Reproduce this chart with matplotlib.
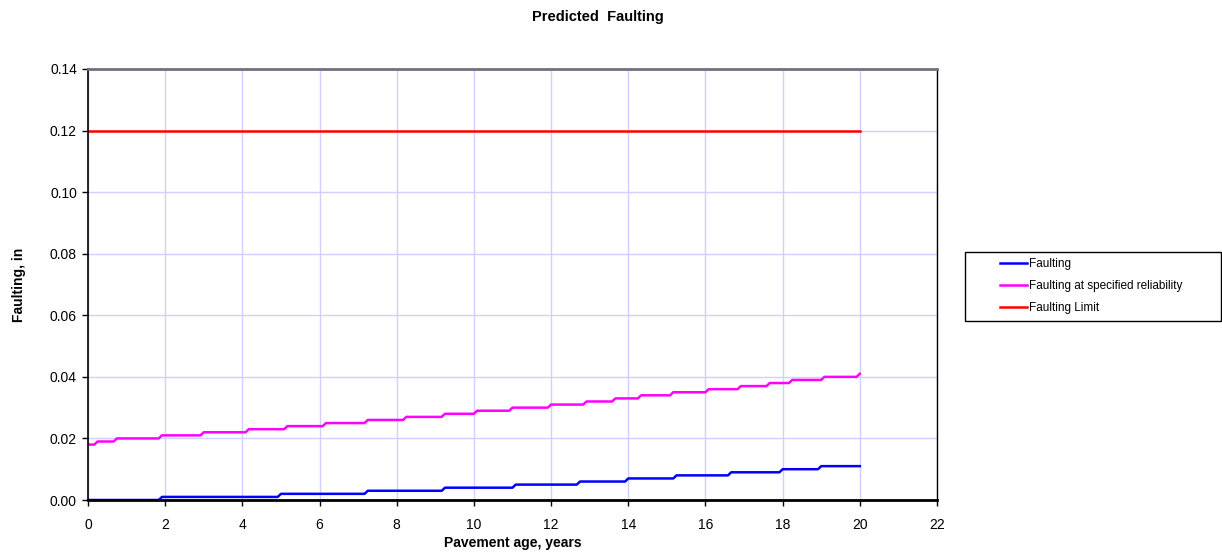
import numpy as np
import matplotlib
matplotlib.use("Agg")
import matplotlib.pyplot as plt
from matplotlib.patches import Rectangle

plt.rcParams['font.family'] = ['Liberation Sans', 'DejaVu Sans']

# Umur saat nilai berubah (tahun) dan nilai faulting (in)
umur_faulting = [0.0, 1.89, 4.96, 7.2, 9.17, 11.08, 12.7, 14.0, 15.25, 16.6, 17.93, 18.94]
nilai_faulting = [0.000, 0.001, 0.002, 0.003, 0.004, 0.005, 0.006, 0.007, 0.008, 0.009, 0.010, 0.011]

umur_reliab = [0.0, 0.23, 0.72, 1.91, 2.97, 4.14, 5.13, 6.12, 7.23, 8.25, 9.22, 10.08,
               10.98, 11.99, 12.89, 13.62, 14.31, 15.12, 16.02, 16.9, 17.6, 18.25, 19.05, 19.98]
nilai_reliab = [0.018, 0.019, 0.020, 0.021, 0.022, 0.023, 0.024, 0.025, 0.026, 0.027, 0.028, 0.029,
                0.030, 0.031, 0.032, 0.033, 0.034, 0.035, 0.036, 0.037, 0.038, 0.039, 0.040, 0.041]

batas_faulting = 0.12
umur_akhir = 20.0

x_ticks = list(range(0, 23, 2))
y_ticks = [0.00, 0.02, 0.04, 0.06, 0.08, 0.10, 0.12, 0.14]

# Deret bulanan dari data tangga
bulan = np.arange(0, int(umur_akhir * 12) + 1) / 12.0


def deret_bulanan(umur, nilai):
    idx = np.searchsorted(umur, bulan, side='right') - 1
    return np.array(nilai)[idx]


fig = plt.figure(figsize=(12.22, 5.52), dpi=100)
ax = fig.add_axes([88 / 1222, 52 / 552, (937 - 88) / 1222, (500 - 69) / 552])

ax.plot(bulan, deret_bulanan(umur_faulting, nilai_faulting), color='#0000ff', lw=1.8, label='Faulting')
ax.plot(bulan, deret_bulanan(umur_reliab, nilai_reliab), color='#ff00ff', lw=1.8,
        label='Faulting at specified reliability')
ax.plot([0, umur_akhir], [batas_faulting, batas_faulting], color='#ff0000', lw=1.8, label='Faulting Limit')

ax.set_xlim(0, 22)
ax.set_ylim(0, 0.14)
ax.set_xticks(x_ticks)
ax.set_yticks(y_ticks)
ax.set_yticklabels([f"{v:.2f}" for v in y_ticks])
ax.grid(True, color='#d0d0ff', lw=1.0)
ax.set_axisbelow(True)
ax.tick_params(labelsize=10, length=4, width=1, direction='out')
ax.tick_params(axis='x', pad=9)
ax.tick_params(axis='y', pad=4)

ax.spines['left'].set_linewidth(1.2)
ax.spines['bottom'].set_linewidth(2)
ax.spines['top'].set_color('#707080')
ax.spines['top'].set_linewidth(2)
ax.spines['right'].set_linewidth(1)

ax.set_xlabel('Pavement age, years', fontsize=10, fontweight='bold', labelpad=3)
ax.set_ylabel('Faulting, in', fontsize=10, fontweight='bold', labelpad=17)
fig.text(598 / 1222, 1 - 17 / 552, 'Predicted  Faulting', ha='center', va='center',
         fontsize=10.5, fontweight='bold')

# kotak legenda
fig.patches.append(Rectangle((965 / 1222, 1 - 321 / 552), (1221 - 965) / 1222, (321 - 252) / 552,
                             transform=fig.transFigure, fill=False, edgecolor='black', lw=1.0))
leg = ax.legend(loc='center left', bbox_to_anchor=(1000 / 1222, 1 - 286 / 552),
                bbox_transform=fig.transFigure, fontsize=8.5, frameon=False,
                handlelength=2.3, handletextpad=0.15, borderpad=0,
                labelspacing=0.85, borderaxespad=0)

fig.savefig('out.png', dpi=100)
